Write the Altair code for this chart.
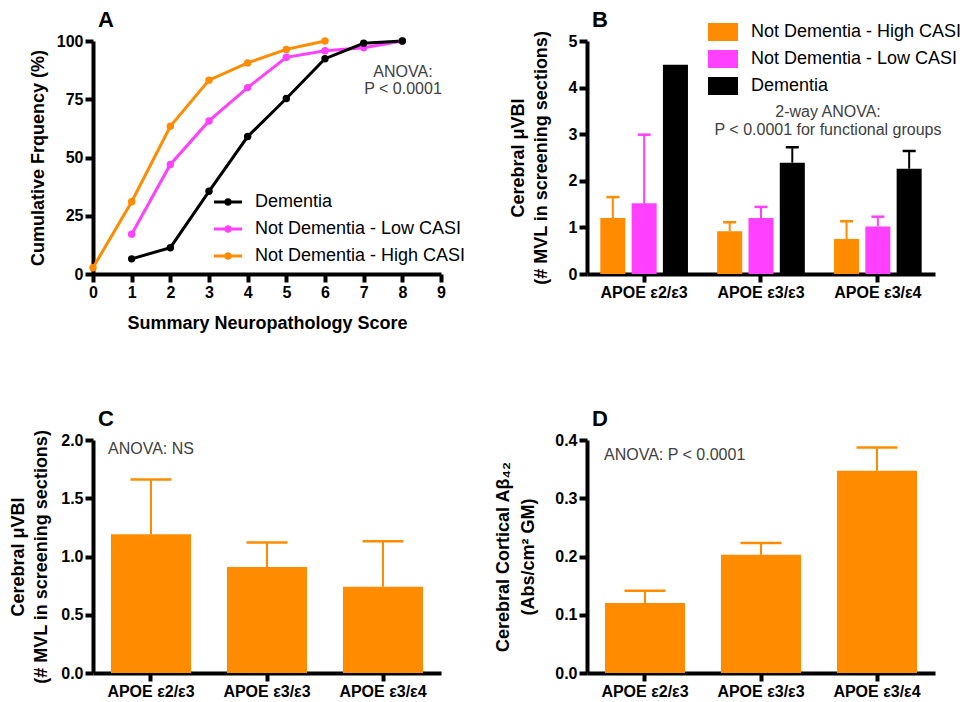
import altair as alt
import pandas as pd

FONT = "Liberation Sans"
ORANGE = "#FF8C00"
PINK = "#FF40FF"
BLACK = "#000000"
GRAY = "#404040"

# ---------------- Panel A data ----------------
groups_a = ["Dementia", "Not Dementia - Low CASI", "Not Dementia - High CASI"]
scores_high = [0, 1, 2, 3, 4, 5, 6]
cum_high = [2.7, 31.0, 63.4, 83.2, 90.6, 96.4, 100.0]
scores_low = [1, 2, 3, 4, 5, 6, 7, 8]
cum_low = [17.1, 47.0, 65.7, 80.0, 93.0, 95.8, 97.1, 100.0]
scores_dem = [1, 2, 3, 4, 5, 6, 7, 8]
cum_dem = [6.5, 11.3, 35.5, 59.0, 75.3, 92.4, 99.0, 100.0]

# ---------------- Panel B data ----------------
genotypes = ["APOE ε2/ε3", "APOE ε3/ε3", "APOE ε3/ε4"]
b_series = ["Not Dementia - High CASI", "Not Dementia - Low CASI", "Dementia"]
b_high = [1.20, 0.92, 0.75]
b_high_top = [1.65, 1.11, 1.13]
b_low = [1.52, 1.20, 1.02]
b_low_top = [2.99, 1.44, 1.23]
b_dem = [4.49, 2.39, 2.26]
b_dem_top = [None, 2.72, 2.64]

# ---------------- Panel C data ----------------
c_mean = [1.19, 0.91, 0.74]
c_top = [1.66, 1.12, 1.13]

# ---------------- Panel D data ----------------
d_mean = [0.120, 0.203, 0.347]
d_top = [0.141, 0.223, 0.387]

W, H = 348, 233
COLOR_OF = {"Dementia": BLACK, "Not Dementia - Low CASI": PINK,
            "Not Dementia - High CASI": ORANGE}

rows_a = []
for g, xs, ys in [(groups_a[2], scores_high, cum_high),
                  (groups_a[1], scores_low, cum_low),
                  (groups_a[0], scores_dem, cum_dem)]:
    for x, y in zip(xs, ys):
        rows_a.append({"score": x, "cum": y, "group": g, "col": COLOR_OF[g]})
df_a = pd.DataFrame(rows_a)

rows_b = []
for i, gt in enumerate(genotypes):
    for s, vals, tops in [(b_series[0], b_high, b_high_top),
                          (b_series[1], b_low, b_low_top),
                          (b_series[2], b_dem, b_dem_top)]:
        rows_b.append({"genotype": gt, "series": s, "value": vals[i], "top": tops[i],
                       "col": COLOR_OF[s]})
df_b = pd.DataFrame(rows_b)

df_c = pd.DataFrame({"genotype": genotypes, "value": c_mean, "top": c_top})
df_d = pd.DataFrame({"genotype": genotypes, "value": d_mean, "top": d_top})

AXIS_STYLE = dict(domain=True, domainColor="black", domainWidth=4, ticks=True,
                  tickColor="black", tickWidth=4, tickSize=8, labelFont=FONT,
                  labelFontSize=16, labelFontWeight="bold", labelColor="black",
                  labelPadding=2, labelOverlap=False, titleFont=FONT, titleFontSize=18,
                  titleFontWeight="bold", titleColor="black", grid=False)


def axis(**kw):
    d = dict(AXIS_STYLE)
    d.update(kw)
    return alt.Axis(**d)


def letter(t):
    return alt.Chart(pd.DataFrame({"t": [t]})).mark_text(
        align="left", baseline="alphabetic", font=FONT, fontSize=22, fontWeight="bold",
        color="black").encode(text="t:N", x=alt.value(5), y=alt.value(-14))


def ann(text, x, y, align="left", lh=17):
    return alt.Chart(pd.DataFrame({"t": [text]})).mark_text(
        align=align, baseline="top", font=FONT, fontSize=16, color=GRAY, lineBreak="\n",
        lineHeight=lh).encode(text="t:N", x=alt.value(x), y=alt.value(y))


def legend(x, y, path, label_offset):
    return alt.Legend(orient="none", legendX=x, legendY=y, title=None, symbolType=path,
                      symbolSize=324, symbolStrokeWidth=0, symbolOpacity=1,
                      labelFont=FONT, labelFontSize=18, labelColor="black",
                      labelOffset=label_offset, labelLimit=400, rowPadding=9, padding=0)


# ---------------- Panel A ----------------
xa = alt.X("score:Q", scale=alt.Scale(domain=[0, 9], nice=False, zero=False),
           axis=axis(values=list(range(10)), title="Summary Neuropathology Score",
                     labelFlush=False, titleY=49, titleBaseline="middle"))
ya = alt.Y("cum:Q", scale=alt.Scale(domain=[0, 100], nice=False),
           axis=axis(values=[0, 25, 50, 75, 100], title="Cumulative Frquency (%)",
                     titleX=-55, titleBaseline="middle"))
col_scale_a = alt.Scale(domain=groups_a, range=[BLACK, PINK, ORANGE])
LINEDOT = ("M-1.556,-0.16H1.556V0.16H-1.556Z "
           "M0.42,0A0.42,0.42,0,1,1,-0.42,0A0.42,0.42,0,1,1,0.42,0Z")

lines_a = alt.Chart(df_a).mark_line(strokeWidth=3).encode(
    x=xa, y=ya, detail="group:N", stroke=alt.Stroke("col:N", scale=None))
points_a = alt.Chart(df_a).mark_circle(size=55, opacity=1).encode(
    x=xa, y=ya,
    color=alt.Color("group:N", scale=col_scale_a, legend=legend(126, 152, LINEDOT, 18)))
panel_a = alt.layer(lines_a, points_a, letter("A"),
                    ann("ANOVA:\nP < 0.0001", 310, 23, align="center", lh=17)).properties(
    width=W, height=H)

# ---------------- Panel B ----------------
xb = alt.X("genotype:N", sort=genotypes,
           scale=alt.Scale(paddingInner=0.25, paddingOuter=0.114),
           axis=axis(title=None, labelAngle=0, labelAlign="center", labelBaseline="top"))
xoff = alt.XOffset("series:N", sort=b_series, scale=alt.Scale(paddingInner=0.2, paddingOuter=0))
b_yscale = alt.Scale(domain=[0, 5], nice=False)
b_yaxis = axis(values=[0, 1, 2, 3, 4, 5],
               title=["Cerebral μVBI", "(# MVL in screening sections)"],
               titleX=-69, titleBaseline="middle", titleLineHeight=23)
yb = alt.Y("value:Q", scale=b_yscale, axis=b_yaxis)
yb_top = alt.Y("top:Q", scale=b_yscale, axis=b_yaxis)
col_scale_b = alt.Scale(domain=b_series, range=[ORANGE, PINK, BLACK])
RECT = "M-1.667,-1H1.667V1H-1.667Z"
bars_b = alt.Chart(df_b).mark_bar().encode(
    x=xb, xOffset=xoff, y=yb,
    color=alt.Color("series:N", scale=col_scale_b, legend=legend(127, -18, RECT, 19)))
err_base_b = alt.Chart(df_b).transform_filter("isValid(datum.top)")
rule_b = err_base_b.mark_rule(strokeWidth=2).encode(
    x=xb, xOffset=xoff, y=yb, y2="top:Q", stroke=alt.Stroke("col:N", scale=None))
cap_b = err_base_b.mark_tick(size=13, thickness=2.5, opacity=1).encode(
    x=xb, xOffset=xoff, y=yb_top, fill=alt.Fill("col:N", scale=None))
panel_b = alt.layer(rule_b, cap_b, bars_b, letter("B"),
                    ann("2-way ANOVA:\nP < 0.0001 for functional groups", 241, 63,
                        align="center", lh=18)).properties(width=W, height=H)


# ---------------- Panels C & D ----------------
def single_panel(df, ymax, yvals, ytitle, titlex, tlh, let, annot, ax, ay):
    xs = alt.X("genotype:N", sort=genotypes,
               scale=alt.Scale(paddingInner=0.31, paddingOuter=0.155),
               axis=axis(title=None, labelAngle=0, labelAlign="center", labelBaseline="top"))
    yscale = alt.Scale(domain=[0, ymax], nice=False)
    yaxis = axis(values=yvals, format=".1f", title=ytitle, titleX=titlex,
                 titleBaseline="middle", titleLineHeight=tlh)
    ys = alt.Y("value:Q", scale=yscale, axis=yaxis)
    ys_top = alt.Y("top:Q", scale=yscale, axis=yaxis)
    rule = alt.Chart(df).mark_rule(strokeWidth=2, color=ORANGE).encode(
        x=xs, y=ys, y2="top:Q")
    cap = alt.Chart(df).mark_tick(size=41, thickness=2.5, color=ORANGE, opacity=1).encode(
        x=xs, y=ys_top)
    bars = alt.Chart(df).mark_bar(color=ORANGE).encode(x=xs, y=ys)
    return alt.layer(rule, cap, bars, letter(let), ann(annot, ax, ay)).properties(
        width=W, height=H)


panel_c = single_panel(df_c, 2.0, [0, 0.5, 1.0, 1.5, 2.0],
                       ["Cerebral μVBI", "(# MVL in screening sections)"], -75, 23, "C",
                       "ANOVA: NS", 15, 1)
panel_d = single_panel(df_d, 0.4, [0, 0.1, 0.2, 0.3, 0.4],
                       ["Cerebral Cortical Aβ₄₂", "(Abs/cm² GM)"], -84, 25, "D",
                       "ANOVA: P < 0.0001", 17, 7)

chart = alt.concat(panel_a, panel_b, panel_c, panel_d, columns=2,
                   spacing={"row": 166, "column": 146}, bounds="flush").resolve_scale(
    color="independent").resolve_legend(color="independent").configure_view(
    stroke=None).configure_legend(rowPadding=9).properties(
    padding={"left": 0, "top": 1, "right": 0, "bottom": 0}, background="white")

chart.save("out.html", embed_options={"renderer": "svg", "actions": False})
